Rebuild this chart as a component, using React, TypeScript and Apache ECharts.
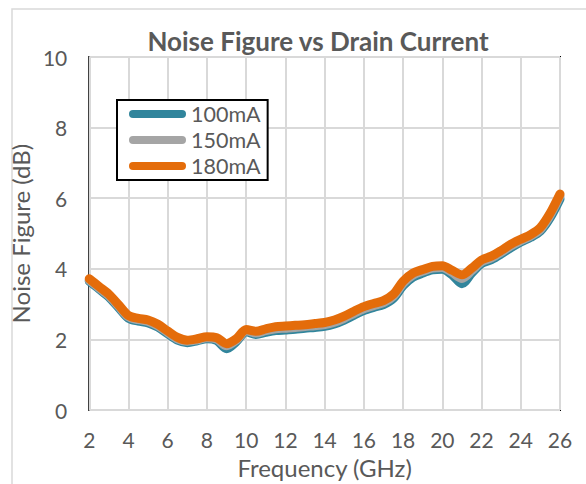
import React, { useEffect, useRef } from "react";
import * as echarts from "echarts";

const freqGHz = [2, 2.5, 3, 3.5, 4, 4.5, 5, 5.5, 6, 6.5, 7, 7.5, 8, 8.5, 9, 9.5, 10, 10.5, 11, 11.5, 12, 12.5, 13, 13.5, 14, 14.5, 15, 15.5, 16, 16.5, 17, 17.5, 18, 18.5, 19, 19.5, 20, 20.5, 21, 21.5, 22, 22.5, 23, 23.5, 24, 24.5, 25, 25.5, 26];

const nf100mA = [3.65, 3.43, 3.20, 2.90, 2.60, 2.52, 2.47, 2.35, 2.16, 1.98, 1.91, 1.96, 2.02, 1.97, 1.74, 1.94, 2.22, 2.14, 2.20, 2.25, 2.27, 2.29, 2.32, 2.34, 2.37, 2.44, 2.55, 2.69, 2.82, 2.91, 2.99, 3.16, 3.52, 3.76, 3.88, 3.97, 3.99, 3.83, 3.58, 3.88, 4.15, 4.26, 4.42, 4.60, 4.76, 4.89, 5.07, 5.45, 5.98];
const nf150mA = [3.68, 3.46, 3.24, 2.94, 2.64, 2.56, 2.51, 2.39, 2.20, 2.02, 1.95, 1.99, 2.05, 2.01, 1.82, 1.98, 2.25, 2.18, 2.25, 2.30, 2.32, 2.34, 2.37, 2.39, 2.42, 2.49, 2.60, 2.74, 2.87, 2.96, 3.04, 3.22, 3.59, 3.82, 3.93, 4.02, 4.04, 3.90, 3.73, 3.95, 4.20, 4.31, 4.47, 4.65, 4.80, 4.93, 5.12, 5.52, 6.06];
const nf180mA = [3.72, 3.50, 3.28, 2.98, 2.68, 2.60, 2.55, 2.43, 2.24, 2.06, 1.98, 2.02, 2.08, 2.05, 1.88, 2.02, 2.28, 2.23, 2.30, 2.36, 2.38, 2.40, 2.42, 2.45, 2.48, 2.55, 2.66, 2.80, 2.93, 3.02, 3.10, 3.28, 3.65, 3.88, 3.98, 4.07, 4.09, 3.96, 3.83, 4.02, 4.25, 4.36, 4.52, 4.70, 4.84, 4.97, 5.17, 5.58, 6.12];

const seriesNames = ["100mA", "150mA", "180mA"];
const seriesColors = ["#31859C", "#A5A5A5", "#E46C0A"];
const seriesValues = [nf100mA, nf150mA, nf180mA];

const FONT = "Lato";
const TEXT = "#595959";

export default function App() {
  const ref = useRef<HTMLDivElement>(null);
  useEffect(() => {
    if (!ref.current) return;
    const chart = echarts.init(ref.current, null, { renderer: "svg" });
    chart.setOption({
      animation: false,
      backgroundColor: "#fff",
      title: {
        text: "Noise Figure vs Drain Current",
        left: 313,
        top: 23,
        textAlign: "center",
        textStyle: { fontFamily: FONT, fontSize: 26, fontWeight: "bold", color: TEXT },
      },
      graphic: [
        {
          type: "rect",
          shape: { x: 12, y: 9, width: 700, height: 600 },
          style: { fill: "none", stroke: "#D9D9D9", lineWidth: 1.5 },
          silent: true,
          z: -1,
        },
      ],
      grid: {
        left: 89,
        right: 26,
        top: 57,
        bottom: 69,
        show: true,
        borderColor: "#000",
        borderWidth: 2,
        containLabel: false,
      },
      legend: {
        orient: "vertical",
        left: 117,
        top: 100,
        backgroundColor: "#fff",
        borderColor: "#000",
        borderWidth: 2,
        padding: [3, 7, 3, 12],
        itemGap: 4,
        itemWidth: 57,
        itemHeight: 8,
        icon: "path://M4 0H53A4 4 0 0 1 53 8H4A4 4 0 0 1 4 0Z",
        textStyle: { fontFamily: FONT, fontSize: 21.5, color: TEXT },
        data: seriesNames,
      },
      xAxis: {
        type: "value",
        min: 2,
        max: 26,
        interval: 2,
        name: "Frequency (GHz)",
        nameLocation: "middle",
        nameGap: 37,
        nameTextStyle: { fontFamily: FONT, fontSize: 24, color: TEXT },
        axisLine: { show: false },
        axisTick: { show: false },
        axisLabel: { fontFamily: FONT, fontSize: 21, color: TEXT, margin: 19 },
        splitLine: { show: true, lineStyle: { color: "#D9D9D9", width: 2 } },
      },
      yAxis: {
        type: "value",
        min: 0,
        max: 10,
        interval: 2,
        name: "Noise Figure (dB)",
        nameLocation: "middle",
        nameGap: 41,
        nameTextStyle: { fontFamily: FONT, fontSize: 24, color: TEXT },
        axisLine: { show: false },
        axisTick: { show: false },
        axisLabel: { fontFamily: FONT, fontSize: 21, color: TEXT, margin: 22 },
        splitLine: { show: true, lineStyle: { color: "#D9D9D9", width: 2 } },
      },
      series: seriesNames.map((name, i) => ({
        name,
        type: "line",
        smooth: 0.3,
        showSymbol: false,
        symbol: "none",
        color: seriesColors[i],
        lineStyle: { width: 9, color: seriesColors[i], cap: "round", join: "round" },
        data: freqGHz.map((f, j) => [f, seriesValues[i][j]]),
      })),
    });
    return () => chart.dispose();
  }, []);
  return (
    <div
      ref={ref}
      style={{ position: "fixed", left: 0, top: 0, width: 586, height: 484 }}
    />
  );
}
